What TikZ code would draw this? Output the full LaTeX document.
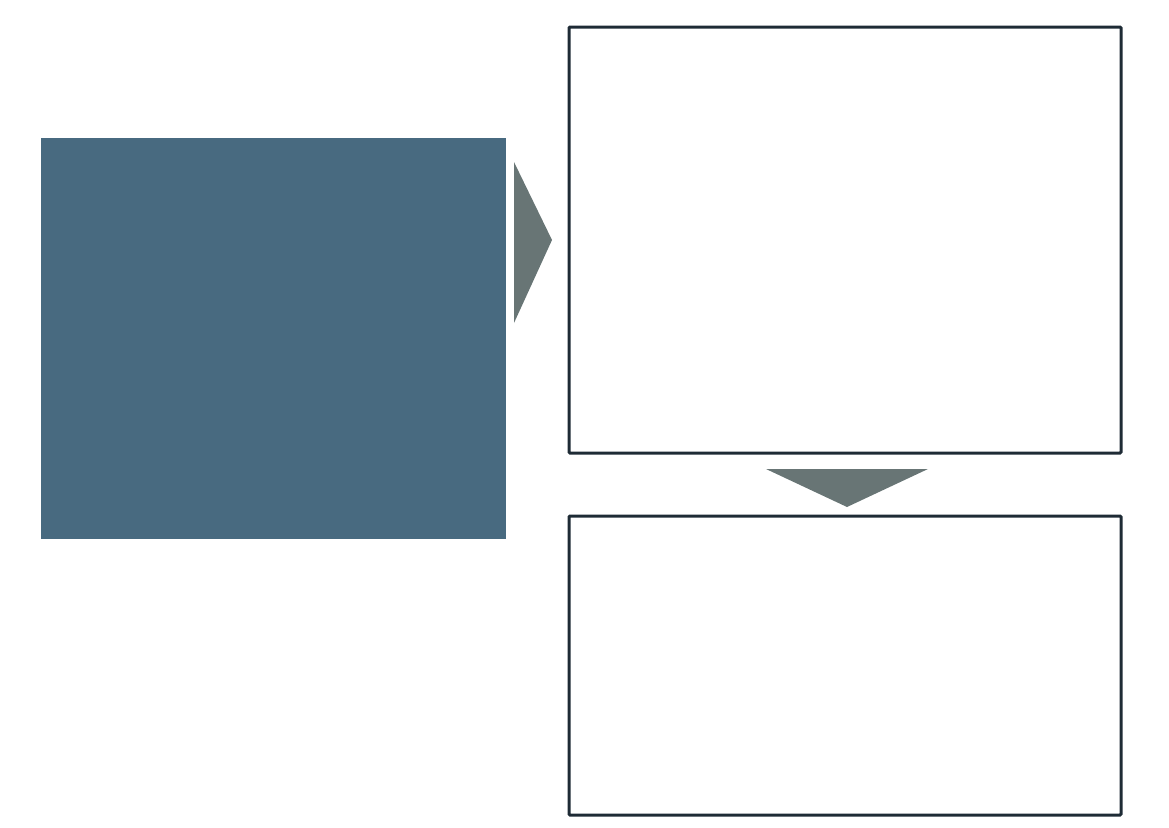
\documentclass[tikz,border=0pt]{standalone}
\usepackage{tikz}
\usetikzlibrary{positioning,calc}

\definecolor{slateblue}{HTML}{486A80}
\definecolor{arrowgray}{HTML}{687575}
\definecolor{darkline}{HTML}{1E2B35}

\begin{document}
\begin{tikzpicture}[x=1pt, y=-1pt,
  panel/.style={draw=darkline, line width=3pt, rounded corners=1pt, inner sep=0pt, outer sep=0pt, anchor=north west},
  pointer/.style={fill=arrowgray, draw=none}]
  \useasboundingbox (0,0) rectangle (1169,827);

  \node[fill=slateblue, inner sep=0pt, outer sep=0pt, anchor=north west, minimum width=465pt, minimum height=401pt] (src) at (41,138) {};
  \node[panel, minimum width=552pt, minimum height=426pt] (top) at (569,27) {};
  \node[panel, minimum width=552pt, minimum height=299pt] (bot) at (569,516) {};

  % right pointer between source and top panel
  \fill[pointer] ($(src.north east)+(8,24)$) -- ($(top.west)+(-17,0)$) -- ($(src.north east)+(8,185)$) -- cycle;
  % down pointer between the two panels
  \fill[pointer] ($(top.south)+(-79,16)$) -- ($(top.south)+(83,16)$) -- ($(bot.north)+(2,-9)$) -- cycle;
\end{tikzpicture}
\end{document}
